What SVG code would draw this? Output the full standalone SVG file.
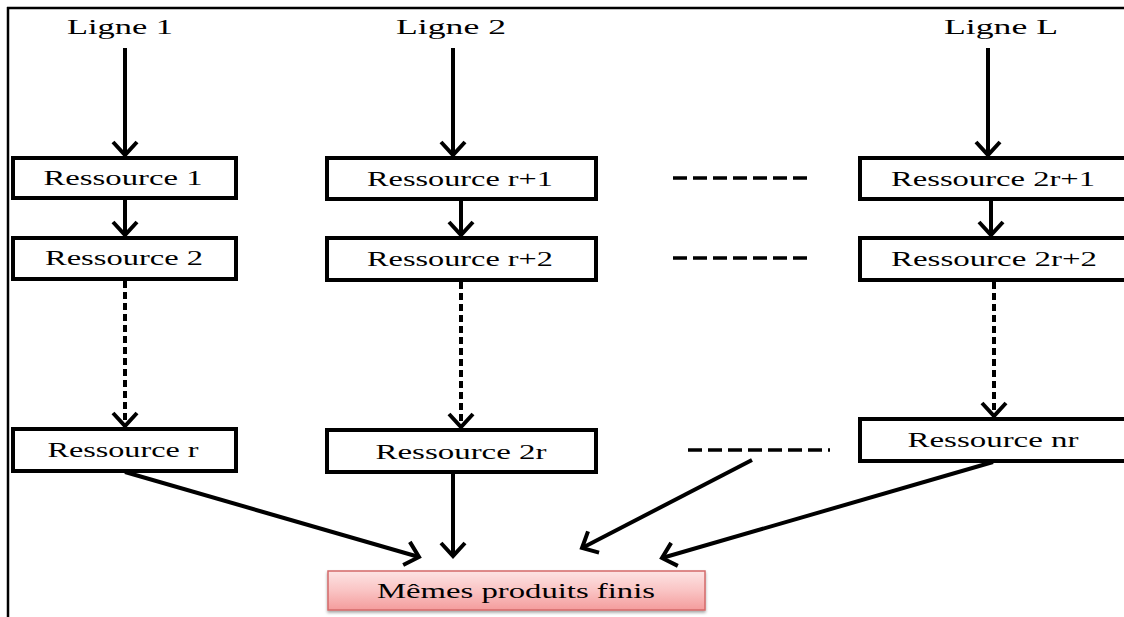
<svg xmlns="http://www.w3.org/2000/svg" width="1124" height="617" viewBox="0 0 1124 617">
<defs>
<marker id="ah" markerUnits="userSpaceOnUse" markerWidth="40" markerHeight="40" viewBox="-20 -20 40 40" refX="0" refY="0" orient="auto" overflow="visible">
<path d="M-13,-12 L0,0 L-13,12" fill="none" stroke="#000" stroke-width="4" stroke-linejoin="miter" stroke-linecap="butt"/>
</marker>
<linearGradient id="pink" x1="0" y1="0" x2="0" y2="1">
<stop offset="0" stop-color="#fde4e4"/>
<stop offset="0.5" stop-color="#fac4c4"/>
<stop offset="1" stop-color="#f49c9c"/>
</linearGradient>
<filter id="sh" x="-5%" y="-20%" width="110%" height="150%">
<feDropShadow dx="0" dy="2" stdDeviation="1.5" flood-color="#000" flood-opacity="0.35"/>
</filter>
</defs>
<style>
.box{fill:#fff;stroke:#000;stroke-width:4}
.t{font-family:"Liberation Serif","Times New Roman",serif;font-size:20px;fill:#000;text-anchor:middle}
.c{fill:none;stroke:#000;stroke-width:4}
.d{fill:none;stroke:#000;stroke-width:4;stroke-dasharray:7 4}
.h{fill:none;stroke:#000;stroke-width:3.5;stroke-dasharray:14 6}
</style>
<rect width="1124" height="617" fill="#fff"/>
<g id="frame">
<line x1="7" y1="8" x2="1124" y2="8" stroke="#000" stroke-width="2.5"/>
<line x1="8" y1="7" x2="8" y2="617" stroke="#000" stroke-width="2.5"/>
</g>
<g id="labels">
<text class="t" x="120" y="34" textLength="106" lengthAdjust="spacingAndGlyphs">Ligne 1</text>
<text class="t" x="451" y="34" textLength="110" lengthAdjust="spacingAndGlyphs">Ligne 2</text>
<text class="t" x="1001" y="34" textLength="114" lengthAdjust="spacingAndGlyphs">Ligne L</text>
</g>
<g id="n1"><rect class="box" x="13" y="158" width="223" height="40"/><text class="t" x="123" y="185" textLength="159" lengthAdjust="spacingAndGlyphs">Ressource 1</text></g>
<g id="n2"><rect class="box" x="13" y="238" width="223" height="41"/><text class="t" x="124" y="265" textLength="158" lengthAdjust="spacingAndGlyphs">Ressource 2</text></g>
<g id="nr"><rect class="box" x="13" y="429" width="223" height="42"/><text class="t" x="123" y="457" textLength="151" lengthAdjust="spacingAndGlyphs">Ressource r</text></g>
<g id="nr1"><rect class="box" x="327" y="158" width="269" height="41"/><text class="t" x="460" y="186" textLength="186" lengthAdjust="spacingAndGlyphs">Ressource r+1</text></g>
<g id="nr2"><rect class="box" x="327" y="238" width="269" height="42"/><text class="t" x="460" y="266" textLength="186" lengthAdjust="spacingAndGlyphs">Ressource r+2</text></g>
<g id="n2r"><rect class="box" x="327" y="430" width="269" height="42"/><text class="t" x="461" y="459" textLength="171" lengthAdjust="spacingAndGlyphs">Ressource 2r</text></g>
<g id="n2r1"><rect class="box" x="860" y="158" width="266" height="41"/><text class="t" x="993" y="186" textLength="204" lengthAdjust="spacingAndGlyphs">Ressource 2r+1</text></g>
<g id="n2r2"><rect class="box" x="860" y="238" width="266" height="42"/><text class="t" x="994" y="266" textLength="206" lengthAdjust="spacingAndGlyphs">Ressource 2r+2</text></g>
<g id="nnr"><rect class="box" x="860" y="419" width="266" height="42"/><text class="t" x="993" y="447" textLength="171" lengthAdjust="spacingAndGlyphs">Ressource nr</text></g>
<g id="final"><rect x="328" y="571" width="377" height="39" fill="url(#pink)" stroke="#d46a6a" stroke-width="1.5" filter="url(#sh)"/><text class="t" x="516" y="598" style="font-size:21px" textLength="278" lengthAdjust="spacingAndGlyphs">Mêmes produits finis</text></g>
<g id="connectors">
<line class="c" x1="125" y1="48" x2="125" y2="155" marker-end="url(#ah)"/>
<line class="c" x1="453" y1="48" x2="453" y2="155" marker-end="url(#ah)"/>
<line class="c" x1="988" y1="48" x2="988" y2="155" marker-end="url(#ah)"/>
<line class="c" x1="125" y1="199" x2="125" y2="235" marker-end="url(#ah)"/>
<line class="c" x1="461" y1="200" x2="461" y2="235" marker-end="url(#ah)"/>
<line class="c" x1="991" y1="200" x2="991" y2="235" marker-end="url(#ah)"/>
<line class="d" x1="125" y1="281" x2="125" y2="426" marker-end="url(#ah)"/>
<line class="d" x1="461" y1="282" x2="461" y2="427" marker-end="url(#ah)"/>
<line class="d" x1="994" y1="282" x2="994" y2="416" marker-end="url(#ah)"/>
<line class="h" x1="673" y1="178" x2="813" y2="178"/>
<line class="h" x1="673" y1="258" x2="813" y2="258"/>
<line class="h" x1="688" y1="450" x2="830" y2="450"/>
<line class="c" x1="125" y1="472" x2="419" y2="557" stroke-width="3" marker-end="url(#ah)"/>
<line class="c" x1="453" y1="473" x2="453" y2="556" marker-end="url(#ah)"/>
<line class="c" x1="752" y1="460" x2="582" y2="548" stroke-width="3" marker-end="url(#ah)"/>
<line class="c" x1="993" y1="462" x2="662" y2="558" stroke-width="3" marker-end="url(#ah)"/>
</g>
</svg>
